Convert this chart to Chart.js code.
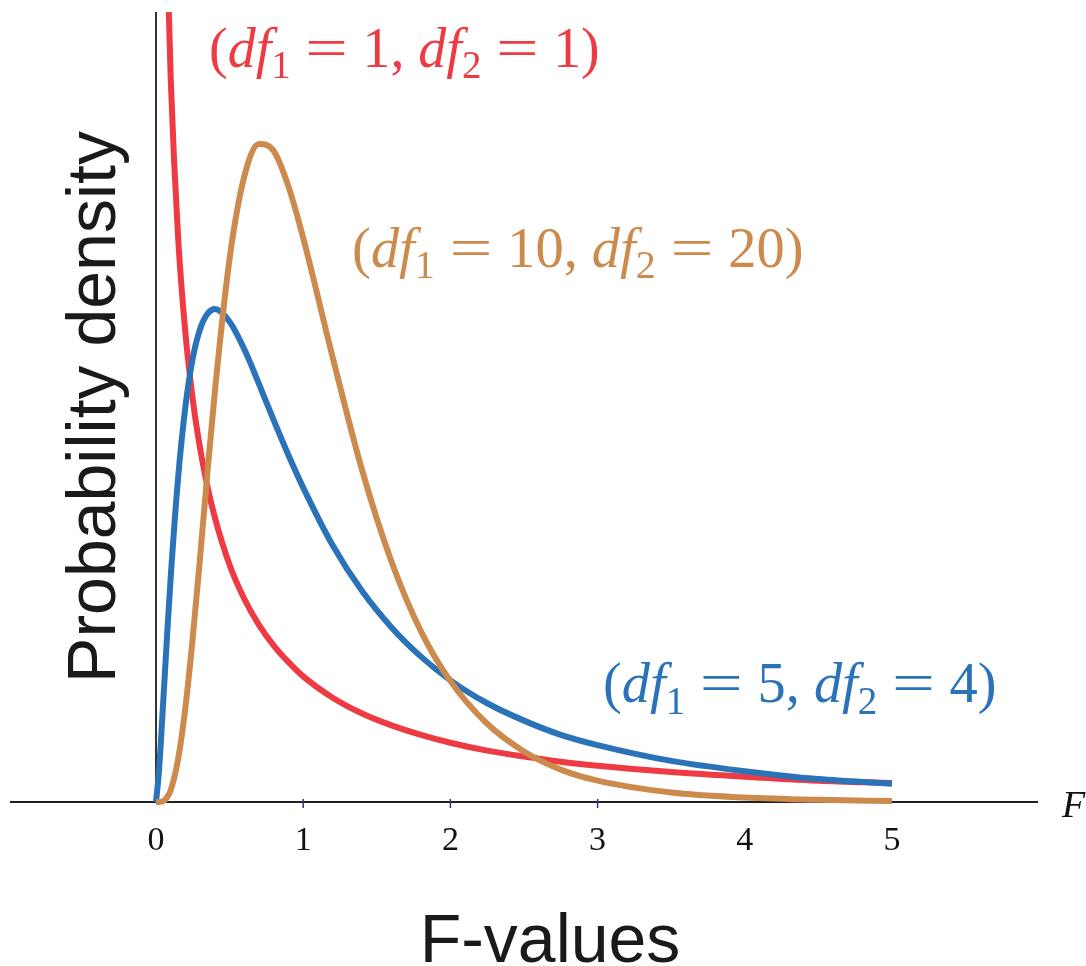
<!DOCTYPE html>
<html>
<head>
<meta charset="utf-8">
<title>F distribution</title>
<script src="https://cdn.jsdelivr.net/npm/chart.js@4.4.1/dist/chart.umd.min.js"></script>
<style>
  html, body { margin: 0; padding: 0; background: #fff; }
  canvas { display: block; }
</style>
</head>
<body>
<canvas id="fChart" width="1086" height="966"></canvas>
<script>
// valores (densidade nos pontos F)
const xValues = [0, 0.02, 0.05, 0.075, 0.1, 0.15, 0.2, 0.25, 0.3, 0.35, 0.4, 0.5, 0.6, 0.7, 0.8, 0.9,
                 1.0, 1.2, 1.4, 1.6, 1.8, 2.0, 2.25, 2.5, 2.75, 3.0, 3.5, 4.0, 4.5, 5.0];

const dens_1_1 = [null, 2.207, 1.356, 1.081, 0.915, 0.715, 0.593, 0.509, 0.447, 0.399, 0.360, 0.300,
                  0.257, 0.224, 0.198, 0.177, 0.159, 0.132, 0.112, 0.097, 0.085, 0.075, 0.065, 0.0575,
                  0.051, 0.046, 0.038, 0.032, 0.027, 0.024];

const dens_5_4 = [0, 0.039, 0.130, 0.210, 0.285, 0.410, 0.501, 0.562, 0.599, 0.618, 0.624, 0.608,
                  0.573, 0.529, 0.483, 0.439, 0.398, 0.325, 0.267, 0.221, 0.184, 0.154, 0.125, 0.103,
                  0.085, 0.072, 0.052, 0.039, 0.029, 0.023];

const dens_10_20 = [0, 0.0000, 0.001, 0.006, 0.015, 0.054, 0.120, 0.209, 0.311, 0.418, 0.520, 0.688,
                    0.792, 0.833, 0.824, 0.779, 0.714, 0.563, 0.420, 0.304, 0.216, 0.153, 0.099, 0.064,
                    0.041, 0.027, 0.012, 0.0056, 0.0027, 0.0013];

const xTickValues = [0, 1, 2, 3, 4, 5];
const xTickLabels = ['0', '1', '2', '3', '4', '5'];
const tickMarkValues = [1, 2, 3];

// rótulos das curvas: [texto, estilo] -> n normal, i itálico, s subscrito, e sinal de igual
const label_1_1   = [['(', 'n'], ['df', 'i'], ['1', 's'], ['=', 'e'], ['1, ', 'n'], ['df', 'i'], ['2', 's'], ['=', 'e'], ['1)', 'n']];
const label_10_20 = [['(', 'n'], ['df', 'i'], ['1', 's'], ['=', 'e'], ['10, ', 'n'], ['df', 'i'], ['2', 's'], ['=', 'e'], ['20)', 'n']];
const label_5_4   = [['(', 'n'], ['df', 'i'], ['1', 's'], ['=', 'e'], ['5, ', 'n'], ['df', 'i'], ['2', 's'], ['=', 'e'], ['4)', 'n']];

const xTitle = 'F-values';
const yTitle = 'Probability density';
const axisName = 'F';

const RED = '#EE3B43';
const ORANGE = '#CC8B4C';
const BLUE = '#2B73B8';
const SERIF = '"Liberation Serif", "DejaVu Serif", serif';
const SANS = '"Liberation Sans", Arial, sans-serif';

const EQ_STRETCH = 1.35;   // "=" mais largo, estilo LaTeX
const EQ_GAP = 0.26;       // espaço em volta do "=" (em)

function toPoints(serie) {
  return xValues.map((x, i) => ({ x, y: serie[i] }));
}

function partFont(style, size) {
  if (style === 'i') return `italic ${size}px ${SERIF}`;
  if (style === 's') return `${Math.round(size * 0.7)}px ${SERIF}`;
  return `${size}px ${SERIF}`;
}

function partWidth(ctx, t, st, size) {
  ctx.font = partFont(st, size);
  const w = ctx.measureText(t).width;
  if (st === 'e') return w * EQ_STRETCH + 2 * EQ_GAP * size;
  return w;
}

function measureMath(ctx, parts, size) {
  return parts.reduce((acc, [t, st]) => acc + partWidth(ctx, t, st, size), 0);
}

// desenha texto "matemático" com largura alvo
function drawMath(ctx, parts, left, baseline, width, color) {
  const size = 100 * width / measureMath(ctx, parts, 100);
  let x = left;
  ctx.fillStyle = color;
  ctx.textBaseline = 'alphabetic';
  ctx.textAlign = 'left';
  parts.forEach(([t, st]) => {
    ctx.font = partFont(st, size);
    if (st === 'e') {
      ctx.save();
      ctx.translate(x + EQ_GAP * size, baseline);
      ctx.scale(EQ_STRETCH, 1);
      ctx.fillText(t, 0, 0);
      ctx.restore();
    } else {
      const dy = st === 's' ? size * 0.2 : 0;
      ctx.fillText(t, x, baseline + dy);
    }
    x += partWidth(ctx, t, st, size);
  });
}

const figurePlugin = {
  id: 'figure',
  beforeDatasetsDraw(chart) {
    const { ctx, chartArea } = chart;
    const xs = chart.scales.x, ys = chart.scales.y;
    const y0 = ys.getPixelForValue(0);
    const x0 = xs.getPixelForValue(0);
    ctx.save();
    // eixo x
    ctx.strokeStyle = '#1f1f28';
    ctx.lineWidth = 2;
    ctx.beginPath();
    ctx.moveTo(chartArea.left, y0);
    ctx.lineTo(chartArea.right, y0);
    ctx.stroke();
    // marcas
    ctx.strokeStyle = '#2e3570';
    ctx.lineWidth = 1.5;
    tickMarkValues.forEach(v => {
      const px = xs.getPixelForValue(v);
      ctx.beginPath();
      ctx.moveTo(px, y0 - 3);
      ctx.lineTo(px, y0 + 6);
      ctx.stroke();
    });
    // eixo y
    ctx.strokeStyle = '#000';
    ctx.lineWidth = 1.6;
    ctx.beginPath();
    ctx.moveTo(x0, chartArea.top);
    ctx.lineTo(x0, y0);
    ctx.stroke();
    ctx.restore();
  },
  afterDatasetsDraw(chart, args, opts) {
    const { ctx } = chart;
    const xs = chart.scales.x, ys = chart.scales.y;
    const y0 = ys.getPixelForValue(0);
    ctx.save();
    // rótulos dos ticks
    ctx.fillStyle = '#111';
    ctx.font = `34px ${SERIF}`;
    ctx.textAlign = 'center';
    ctx.textBaseline = 'alphabetic';
    xTickValues.forEach((v, i) => {
      ctx.fillText(xTickLabels[i], xs.getPixelForValue(v), y0 + 48);
    });
    // nome do eixo
    ctx.font = `italic 38px ${SERIF}`;
    ctx.textAlign = 'left';
    ctx.fillText(axisName, chart.chartArea.right + 24, y0 + 15);

    // títulos
    ctx.fillStyle = '#1a1a1a';
    ctx.font = `68px ${SANS}`;
    ctx.textAlign = 'center';
    ctx.fillText(xTitle, 550, 962);
    ctx.save();
    ctx.translate(115, 407);
    ctx.rotate(-Math.PI / 2);
    ctx.fillText(yTitle, 0, 0);
    ctx.restore();

    // rótulos das curvas
    opts.labels.forEach(l => {
      drawMath(ctx, l.parts, xs.getPixelForValue(l.x), ys.getPixelForValue(l.y), l.width, l.color);
    });
    ctx.restore();
  }
};

function lineDataset(label, serie, color) {
  return {
    label,
    data: toPoints(serie),
    borderColor: color,
    borderWidth: 6,
    pointRadius: 0,
    fill: false,
    cubicInterpolationMode: 'monotone',
    clip: { left: 8, top: 0, right: 8, bottom: 8 }
  };
}

document.addEventListener('DOMContentLoaded', () => {
  const ctx = document.getElementById('fChart');
  new Chart(ctx, {
    type: 'line',
    data: {
      datasets: [
        lineDataset('df1=10, df2=20', dens_10_20, ORANGE),
        lineDataset('df1=5, df2=4', dens_5_4, BLUE),
        lineDataset('df1=1, df2=1', dens_1_1, RED)
      ]
    },
    options: {
      responsive: false,
      animation: false,
      devicePixelRatio: 1,
      layout: { padding: { left: 10, right: 48, top: 12, bottom: 164 } },
      plugins: {
        legend: { display: false },
        tooltip: { enabled: false },
        figure: {
          labels: [
            { parts: label_1_1,   x: 0.36,  y: 0.93,  width: 391, color: RED },
            { parts: label_10_20, x: 1.332, y: 0.677, width: 451, color: ORANGE },
            { parts: label_5_4,   x: 3.037, y: 0.126, width: 394, color: BLUE }
          ]
        }
      },
      scales: {
        x: { type: 'linear', min: -0.992, max: 5.992, display: false },
        y: { type: 'linear', min: 0, max: 1.0, display: false }
      }
    },
    plugins: [figurePlugin]
  });
});
</script>
</body>
</html>
